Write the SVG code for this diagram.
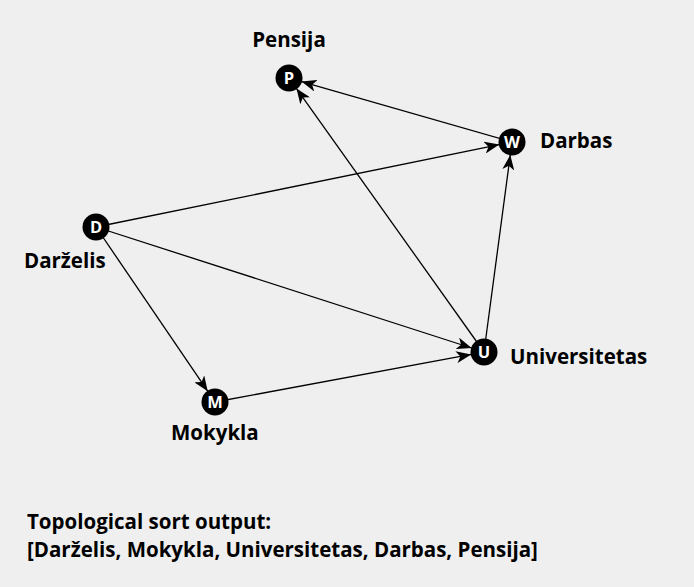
<svg xmlns="http://www.w3.org/2000/svg" width="694" height="587" viewBox="0 0 694 587">
<style>
.lbl{font-family:"Open Sans","Liberation Sans",sans-serif;font-weight:bold;font-size:20.5px;fill:#000}
.nl{font-family:"Open Sans","Liberation Sans",sans-serif;font-weight:bold;font-size:16.5px;fill:#fff;text-anchor:middle}
.edge{stroke:#000;stroke-width:1.3;fill:none;marker-end:url(#arr)}
</style>
<defs>
<marker id="arr" markerUnits="userSpaceOnUse" markerWidth="16" markerHeight="12" refX="15" refY="6" orient="auto">
<path d="M0,0 L15,6 L0,12 L4,6 z" fill="#000"/>
</marker>
</defs>
<rect width="694" height="587" fill="#efefef"/>
<g id="connectors">
<line class="edge" x1="512" y1="142" x2="301.5" y2="81.6"/>
<line class="edge" x1="484" y1="352" x2="296.5" y2="88.6"/>
<line class="edge" x1="96" y1="227" x2="499.3" y2="144.6"/>
<line class="edge" x1="484" y1="352" x2="510.3" y2="154.9"/>
<line class="edge" x1="96" y1="227" x2="471.6" y2="348"/>
<line class="edge" x1="96" y1="227" x2="207.7" y2="391.2"/>
<line class="edge" x1="215" y1="402" x2="471.2" y2="354.4"/>
</g>
<g id="P"><circle cx="289" cy="78" r="13.5"/><text class="nl" x="289" y="84">P</text><text class="lbl" x="289" y="47" text-anchor="middle">Pensija</text></g>
<g id="W"><circle cx="512" cy="142" r="13.5"/><text class="nl" x="512" y="148">W</text><text class="lbl" x="540" y="148">Darbas</text></g>
<g id="D"><circle cx="96" cy="227" r="13.5"/><text class="nl" x="96" y="233">D</text><text class="lbl" x="24" y="268">Darželis</text></g>
<g id="U"><circle cx="484" cy="352" r="13.5"/><text class="nl" x="484" y="358">U</text><text class="lbl" x="510" y="364">Universitetas</text></g>
<g id="M"><circle cx="215" cy="402" r="13.5"/><text class="nl" x="215" y="408">M</text><text class="lbl" x="171" y="440">Mokykla</text></g>
<g id="output">
<text class="lbl" x="27" y="529">Topological sort output:</text>
<text class="lbl" x="27" y="557">[Darželis, Mokykla, Universitetas, Darbas, Pensija]</text>
</g>
</svg>
